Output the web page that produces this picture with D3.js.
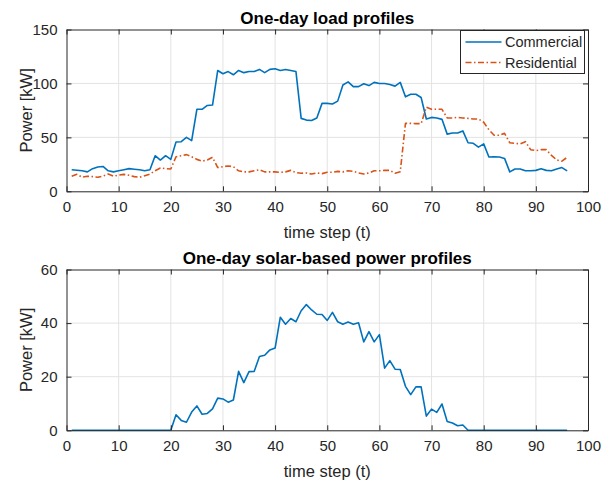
<!DOCTYPE html>
<html>
<head>
<meta charset="utf-8">
<script src="https://cdn.jsdelivr.net/npm/d3@7"></script>
<style>
  body { margin: 0; background: #fff; }
  text { font-family: "Liberation Sans", Arial, Helvetica, sans-serif; }
</style>
</head>
<body>
<div class="chart"></div>
<script>
// one-day profiles, 96 time steps
var commercial = [20, 19.5, 19, 18, 21, 22.5, 23, 19, 18, 19, 20, 21, 20.5, 20, 19, 20,
    33, 29, 33, 29.6, 45.7, 46, 50, 47, 76, 76, 79.6, 80, 112, 109, 111, 108,
    112, 110, 111, 111, 113, 110, 113, 113.6, 112, 113, 112, 111, 67.6, 66, 65.7, 68,
    81.5, 81.5, 81, 83.6, 98.5, 101.5, 97, 97, 99.7, 98, 101, 100, 100, 99, 97.5, 101,
    87.6, 90, 90, 87, 67, 68.5, 68, 66.7, 53, 54, 54, 56, 45, 44.5, 41, 44,
    31.8, 32, 31.8, 30.5, 18, 20.7, 20.7, 19, 19, 19.4, 21, 19.4, 19, 20.7, 22, 19];

var residential = [13.9, 15.7, 13, 14, 13.6, 13, 14, 16, 14, 15, 15.7, 14.8, 13.6, 13, 14.5, 16,
    19, 21.6, 21, 20.7, 32, 33, 34, 32, 29.6, 28, 29, 31.5, 22, 22.8, 23.5, 22.8,
    19, 18, 18, 19, 20, 18, 18, 18, 17.6, 18, 19.4, 17.3, 16.7, 17, 16, 17,
    16.4, 17.6, 17.6, 18.5, 18, 19, 18.5, 17, 16, 17, 19, 19, 19.4, 19.4, 16.7, 18.2,
    63, 63, 62.7, 62.7, 78, 76, 76, 76, 68, 68, 68.5, 68, 67.6, 67, 67, 64,
    57, 52, 52, 53.7, 45, 44.5, 44, 46, 38.6, 37.7, 38.6, 38.6, 33.3, 29, 28, 31.5];

var solar = [0, 0, 0, 0, 0, 0, 0, 0, 0, 0, 0, 0, 0, 0, 0, 0,
    0, 0, 0, 0, 5.8, 3.7, 3, 6.8, 9.1, 6, 6.3, 8, 12, 11.7, 10.5, 11.3,
    22, 17.8, 21.9, 22, 27.5, 28, 30, 30.7, 42.2, 39.6, 41.7, 40.5, 44.6, 46.9, 44.9, 43.3,
    43.2, 41, 44, 40.5, 39.6, 40.4, 39.6, 40.1, 33, 36.8, 33, 35.7, 23.2, 26, 22.8, 22.7,
    16.4, 13.3, 16.2, 16.2, 5.3, 7.9, 6.7, 9.8, 3.3, 2.7, 1.7, 2, 0, 0, 0, 0,
    0, 0, 0, 0, 0, 0, 0, 0, 0, 0, 0, 0, 0, 0, 0, 0];

var steps = d3.range(1, 97);
var xTicks = [0, 10, 20, 30, 40, 50, 60, 70, 80, 90, 100];
var topTicks = [0, 50, 100, 150];
var bottomTicks = [0, 20, 40, 60];

const blue = "#0072BD", orange = "#D95319", axisCol = "#262626", gridCol = "#e3e3e3";

const width = 603, height = 482;
const left = 66.5, right = 588;

var svg = d3.select(".chart").append("svg")
    .attr("width", width)
    .attr("height", height);

function panel(top, bottom, yMax, yTicks, title, titleY, series) {
    const x = d3.scaleLinear().domain([0, 100]).range([left, right]);
    const y = d3.scaleLinear().domain([0, yMax]).range([bottom, top]);
    const g = svg.append("g");

    // grid
    g.selectAll(".vgrid").data(xTicks.slice(1, -1)).enter().append("line")
        .attr("x1", d => x(d)).attr("x2", d => x(d))
        .attr("y1", top).attr("y2", bottom)
        .attr("stroke", gridCol).attr("stroke-width", 1);
    g.selectAll(".hgrid").data(yTicks.slice(1, -1)).enter().append("line")
        .attr("x1", left).attr("x2", right)
        .attr("y1", d => y(d)).attr("y2", d => y(d))
        .attr("stroke", gridCol).attr("stroke-width", 1);

    // lines
    series.forEach(s => {
        g.append("path")
            .datum(s.values)
            .attr("fill", "none")
            .attr("stroke", s.color)
            .attr("stroke-width", 1.6)
            .attr("stroke-linejoin", "round")
            .attr("stroke-dasharray", s.dash || null)
            .attr("d", d3.line().x((d, i) => x(steps[i])).y(d => y(d)));
    });

    // axes (ticks inside, box on)
    const tk = 5;
    g.append("g").attr("transform", `translate(0,${bottom})`)
        .call(d3.axisBottom(x).tickValues(xTicks).tickSizeInner(-tk).tickSizeOuter(0).tickPadding(10));
    g.append("g").attr("transform", `translate(0,${top})`)
        .call(d3.axisTop(x).tickValues(xTicks).tickSizeInner(-tk).tickSizeOuter(0).tickFormat(""));
    g.append("g").attr("transform", `translate(${left},0)`)
        .call(d3.axisLeft(y).tickValues(yTicks).tickSizeInner(-tk).tickSizeOuter(0).tickPadding(9));
    g.append("g").attr("transform", `translate(${right},0)`)
        .call(d3.axisRight(y).tickValues(yTicks).tickSizeInner(-tk).tickSizeOuter(0).tickFormat(""));

    g.selectAll(".domain").attr("stroke", axisCol).attr("stroke-width", 1);
    g.selectAll(".tick line").attr("stroke", axisCol);
    g.selectAll(".tick text").attr("fill", axisCol).attr("font-size", 15)
        .attr("font-family", "Liberation Sans, Arial, sans-serif");

    // titles and labels
    g.append("text")
        .text(title)
        .attr("x", (left + right) / 2).attr("y", titleY)
        .attr("text-anchor", "middle")
        .attr("font-weight", "bold")
        .attr("font-size", 17)
        .attr("fill", "#000");

    g.append("text")
        .text("time step (t)")
        .attr("x", (left + right) / 2).attr("y", bottom + 46.5)
        .attr("text-anchor", "middle")
        .attr("font-size", 16.5)
        .attr("fill", axisCol);

    g.append("text")
        .text("Power [kW]")
        .attr("transform", `translate(32,${(top + bottom) / 2}) rotate(-90)`)
        .attr("text-anchor", "middle")
        .attr("font-size", 16.5)
        .attr("fill", axisCol);

    return g;
}

var g1 = panel(29.5, 191.3, 150, topTicks, "One-day load profiles", 24, [
    {values: commercial, color: blue},
    {values: residential, color: orange, dash: "6,2.5,1.5,2.5"}
]);

panel(269.5, 430.3, 60, bottomTicks, "One-day solar-based power profiles", 263.5, [
    {values: solar, color: blue}
]);

// legend
var legend = g1.append("g");
legend.append("rect")
    .attr("x", 460.5).attr("y", 30.5)
    .attr("width", 124).attr("height", 43)
    .attr("fill", "#fff").attr("stroke", axisCol).attr("stroke-width", 1);

var legendItems = [
    {name: "Commercial", color: blue, dash: null},
    {name: "Residential", color: orange, dash: "6,2.5,1.5,2.5"}
];
legendItems.forEach((d, i) => {
    var ly = 42 + i * 20.5;
    legend.append("line")
        .attr("x1", 465.5).attr("x2", 501.5)
        .attr("y1", ly).attr("y2", ly)
        .attr("stroke", d.color).attr("stroke-width", 1.6)
        .attr("stroke-dasharray", d.dash);
    legend.append("text")
        .text(d.name)
        .attr("x", 505).attr("y", ly + 5)
        .attr("font-size", 14.5)
        .attr("fill", axisCol);
});
</script>
</body>
</html>
